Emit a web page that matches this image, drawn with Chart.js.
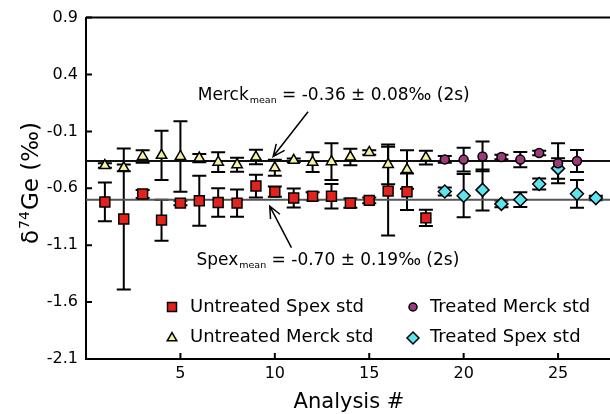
<!DOCTYPE html>
<html>
<head>
<meta charset="utf-8">
<script src="https://cdn.jsdelivr.net/npm/chart.js@4.4.1/dist/chart.umd.min.js"></script>
<style>
  body { margin: 0; background: #fff; }
  #wrap { width: 610px; height: 414px; }
</style>
</head>
<body>
<div id="wrap"><canvas id="grafico"></canvas></div>
<script>
// Datos (número de análisis, δ74Ge y error 2s)
const spexX   = [1, 2, 3, 4, 5, 6, 7, 8, 9, 10, 11, 12, 13, 14, 15, 16, 17, 18];
const spexY   = [-0.72, -0.87, -0.65, -0.88, -0.73, -0.71, -0.725, -0.73, -0.58, -0.63, -0.685, -0.67, -0.67, -0.73, -0.706, -0.625, -0.63, -0.86];
const spexErr = [0.17, 0.62, 0.035, 0.18, 0.02, 0.22, 0.125, 0.12, 0.10, 0.045, 0.083, 0.036, 0.108, 0.04, 0.026, 0.39, 0.16, 0.072];

const merckX   = [1, 2, 3, 4, 5, 6, 7, 8, 9, 10, 11, 12, 13, 14, 15, 16, 17, 18];
const merckY   = [-0.40, -0.42, -0.32, -0.31, -0.32, -0.334, -0.37, -0.393, -0.325, -0.42, -0.354, -0.37, -0.366, -0.325, -0.285, -0.39, -0.435, -0.33];
const merckErr = [0.02, 0.03, 0.055, 0.216, 0.31, 0.036, 0.086, 0.062, 0.063, 0.07, 0.015, 0.086, 0.161, 0.072, 0.02, 0.175, 0.17, 0.06];

const tMerckX   = [19, 20, 21, 22, 23, 24, 25, 26];
const tMerckY   = [-0.346, -0.348, -0.32, -0.325, -0.348, -0.29, -0.38, -0.36];
const tMerckErr = [0.03, 0.105, 0.131, 0.02, 0.068, 0.02, 0.176, 0.097];

const tSpexX   = [19, 20, 21, 22, 23, 24, 25, 26, 27];
const tSpexY   = [-0.628, -0.665, -0.614, -0.737, -0.70, -0.562, -0.425, -0.648, -0.686];
const tSpexErr = [0.036, 0.19, 0.18, 0.03, 0.065, 0.048, 0.09, 0.122, 0.02];

const merckMean = -0.36;
const spexMean = -0.70;

const xTicks = [5, 10, 15, 20, 25];
const yTicks = [-2.1, -1.6, -1.1, -0.6, -0.1, 0.4, 0.9];

const xMin = 0, xMax = 27.75;

function puntos(xs, ys) {
    return xs.map((x, i) => ({ x: x, y: ys[i] }));
}

// Dibuja un marcador simple (para la leyenda)
function marcador(ctx, estilo, x, y, r, relleno) {
    ctx.save();
    ctx.fillStyle = relleno;
    ctx.strokeStyle = '#000';
    ctx.lineWidth = 1.5;
    ctx.beginPath();
    if (estilo === 'rect') {
        ctx.rect(x - r, y - r, 2 * r, 2 * r);
    } else if (estilo === 'triangle') {
        ctx.moveTo(x, y - r);
        ctx.lineTo(x + r * 0.866, y + r * 0.5);
        ctx.lineTo(x - r * 0.866, y + r * 0.5);
        ctx.closePath();
    } else if (estilo === 'circle') {
        ctx.arc(x, y, r, 0, Math.PI * 2);
    } else {
        ctx.moveTo(x, y - r);
        ctx.lineTo(x + r, y);
        ctx.lineTo(x, y + r);
        ctx.lineTo(x - r, y);
        ctx.closePath();
    }
    ctx.fill();
    ctx.stroke();
    ctx.restore();
}

function flecha(ctx, x1, y1, x2, y2) {
    const ang = Math.atan2(y2 - y1, x2 - x1);
    const L = 13, a = 0.42;
    ctx.beginPath();
    ctx.moveTo(x1, y1);
    ctx.lineTo(x2, y2);
    ctx.moveTo(x2 - L * Math.cos(ang - a), y2 - L * Math.sin(ang - a));
    ctx.lineTo(x2, y2);
    ctx.lineTo(x2 - L * Math.cos(ang + a), y2 - L * Math.sin(ang + a));
    ctx.stroke();
}

// Texto con subíndice "mean"
function textoMedia(ctx, x, y, nombre, resto) {
    ctx.font = '17px "DejaVu Sans"';
    ctx.fillText(nombre, x, y);
    let w = ctx.measureText(nombre).width + 1;
    ctx.font = '9.5px "DejaVu Sans"';
    ctx.fillText('mean', x + w, y + 3);
    w += ctx.measureText('mean').width;
    ctx.font = '17px "DejaVu Sans"';
    ctx.fillText(resto, x + w, y);
}

// Barras de error (2s)
const barrasError = {
    id: 'barrasError',
    beforeDatasetsDraw(chart) {
        const ctx = chart.ctx;
        const sx = chart.scales.x, sy = chart.scales.y;
        ctx.save();
        ctx.strokeStyle = '#000';
        ctx.lineWidth = 2;
        chart.data.datasets.forEach(ds => {
            if (!ds.errores) return;
            ds.data.forEach((p, i) => {
                const px = sx.getPixelForValue(p.x);
                const arriba = sy.getPixelForValue(p.y + ds.errores[i]);
                const abajo = sy.getPixelForValue(p.y - ds.errores[i]);
                ctx.beginPath();
                ctx.moveTo(px, arriba);
                ctx.lineTo(px, abajo);
                ctx.moveTo(px - 7, arriba);
                ctx.lineTo(px + 7, arriba);
                ctx.moveTo(px - 7, abajo);
                ctx.lineTo(px + 7, abajo);
                ctx.stroke();
            });
        });
        ctx.restore();
    }
};

// Marco, ticks hacia dentro, textos, flechas y leyenda
const decoracion = {
    id: 'decoracion',
    afterDraw(chart) {
        const ctx = chart.ctx;
        const area = chart.chartArea;
        const sx = chart.scales.x, sy = chart.scales.y;
        ctx.save();
        ctx.strokeStyle = '#000';
        ctx.fillStyle = '#000';
        ctx.lineWidth = 2;

        // borde superior
        ctx.beginPath();
        ctx.moveTo(area.left, area.top);
        ctx.lineTo(area.right, area.top);
        ctx.stroke();

        // ticks hacia dentro
        ctx.beginPath();
        xTicks.forEach(v => {
            const px = sx.getPixelForValue(v);
            ctx.moveTo(px, area.bottom);
            ctx.lineTo(px, area.bottom - 6);
        });
        yTicks.forEach(v => {
            const py = sy.getPixelForValue(v);
            ctx.moveTo(area.left, py);
            ctx.lineTo(area.left + 6, py);
        });
        ctx.stroke();

        // flechas
        ctx.lineWidth = 1.5;
        flecha(ctx, sx.getPixelForValue(11.76), sy.getPixelForValue(0.072),
                    sx.getPixelForValue(9.91), sy.getPixelForValue(-0.321));
        flecha(ctx, sx.getPixelForValue(10.88), sy.getPixelForValue(-1.121),
                    sx.getPixelForValue(9.73), sy.getPixelForValue(-0.757));

        // textos de las medias
        ctx.textBaseline = 'alphabetic';
        ctx.textAlign = 'left';
        textoMedia(ctx, sx.getPixelForValue(5.92), sy.getPixelForValue(0.179), 'Merck', ' = -0.36 ± 0.08‰ (2s)');
        textoMedia(ctx, sx.getPixelForValue(5.85), sy.getPixelForValue(-1.271), 'Spex', ' = -0.70 ± 0.19‰ (2s)');

        // leyenda
        marcador(ctx, 'rect', 172, 307, 4.5, '#e3231b');
        marcador(ctx, 'triangle', 172, 338, 5.5, '#f3f3a0');
        marcador(ctx, 'circle', 413, 307, 4, '#9a3c78');
        marcador(ctx, 'diamond', 413, 338, 6, '#5de5ef');
        ctx.fillStyle = '#000';
        ctx.font = '18px "DejaVu Sans"';
        ctx.textBaseline = 'middle';
        ctx.fillText('Untreated Spex std', 190, 307);
        ctx.fillText('Untreated Merck std', 190, 337);
        ctx.fillText('Treated Merck std', 430, 307);
        ctx.fillText('Treated Spex std', 430, 337);

        // título del eje X
        ctx.font = '21px "DejaVu Sans"';
        ctx.textAlign = 'center';
        ctx.textBaseline = 'alphabetic';
        ctx.fillText('Analysis #', 349, 408);

        // título del eje Y: δ74Ge (‰)
        ctx.translate(38, 183);
        ctx.rotate(-Math.PI / 2);
        ctx.textAlign = 'left';
        ctx.font = '23px "DejaVu Sans"';
        const w1 = ctx.measureText('δ').width;
        ctx.font = '14px "DejaVu Sans"';
        const w2 = ctx.measureText('74').width;
        ctx.font = '23px "DejaVu Sans"';
        const w3 = ctx.measureText('Ge (‰)').width;
        const total = w1 + w2 + w3 + 2;
        let pos = -total / 2;
        ctx.fillText('δ', pos, 0);
        pos += w1 + 1;
        ctx.font = '14px "DejaVu Sans"';
        ctx.fillText('74', pos, -9);
        pos += w2 + 1;
        ctx.font = '23px "DejaVu Sans"';
        ctx.fillText('Ge (‰)', pos, 0);
        ctx.restore();
    }
};

Chart.defaults.font.family = '"DejaVu Sans"';
Chart.defaults.color = '#000';

new Chart(document.getElementById('grafico'), {
    type: 'scatter',
    data: {
        datasets: [
            {
                label: 'Untreated Spex std',
                data: puntos(spexX, spexY),
                errores: spexErr,
                pointStyle: 'rect',
                pointRadius: 7,
                backgroundColor: '#e3231b',
                borderColor: '#000',
                borderWidth: 1.5,
                order: 1
            },
            {
                label: 'Untreated Merck std',
                data: puntos(merckX, merckY),
                errores: merckErr,
                pointStyle: 'triangle',
                pointRadius: 6,
                backgroundColor: '#f3f3a0',
                borderColor: '#000',
                borderWidth: 1.5,
                order: 1
            },
            {
                label: 'Treated Merck std',
                data: puntos(tMerckX, tMerckY),
                errores: tMerckErr,
                pointStyle: 'circle',
                pointRadius: 4.5,
                backgroundColor: '#9a3c78',
                borderColor: '#000',
                borderWidth: 1.5,
                order: 1
            },
            {
                label: 'Treated Spex std',
                data: puntos(tSpexX, tSpexY),
                errores: tSpexErr,
                pointStyle: 'rectRot',
                pointRadius: 6.5,
                backgroundColor: '#5de5ef',
                borderColor: '#000',
                borderWidth: 1.5,
                order: 1
            },
            {
                type: 'line',
                label: 'Merck mean',
                data: [{ x: xMin, y: merckMean }, { x: xMax, y: merckMean }],
                borderColor: '#111',
                borderWidth: 2,
                pointRadius: 0,
                order: 5
            },
            {
                type: 'line',
                label: 'Spex mean',
                data: [{ x: xMin, y: spexMean }, { x: xMax, y: spexMean }],
                borderColor: '#555',
                borderWidth: 2,
                pointRadius: 0,
                order: 5
            }
        ]
    },
    options: {
        responsive: true,
        maintainAspectRatio: false,
        animation: false,
        events: [],
        layout: { autoPadding: false, padding: { top: 15, right: 0, left: 0, bottom: 0 } },
        plugins: {
            legend: { display: false },
            tooltip: { enabled: false }
        },
        scales: {
            x: {
                type: 'linear',
                min: xMin,
                max: xMax,
                afterBuildTicks: s => { s.ticks = xTicks.map(v => ({ value: v })); },
                afterFit: s => { s.height = 55; },
                grid: { display: false, drawTicks: false },
                border: { display: true, color: '#000', width: 2 },
                ticks: { font: { size: 16 }, padding: 5, maxRotation: 0 }
            },
            y: {
                min: -2.1,
                max: 0.9,
                afterBuildTicks: s => { s.ticks = yTicks.map(v => ({ value: v })); },
                afterFit: s => { s.width = 86; },
                grid: { display: false, drawTicks: false },
                border: { display: true, color: '#000', width: 2 },
                ticks: { font: { size: 16 }, padding: 8, callback: v => v.toFixed(1) }
            }
        }
    },
    plugins: [barrasError, decoracion]
});
</script>
</body>
</html>
